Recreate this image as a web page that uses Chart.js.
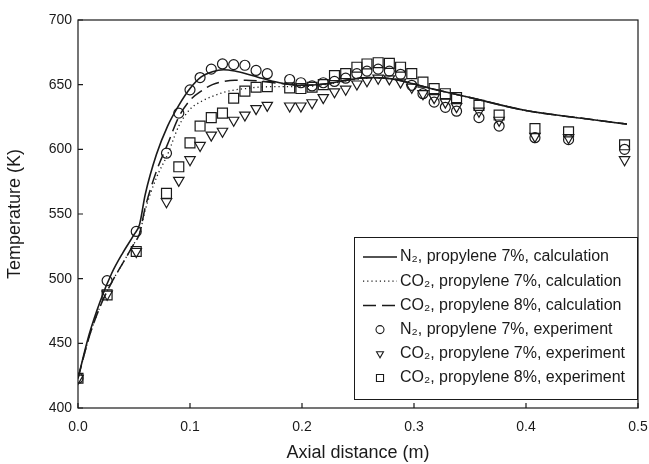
<!DOCTYPE html>
<html>
<head>
<meta charset="utf-8">
<script src="https://cdn.jsdelivr.net/npm/chart.js@4.4.1/dist/chart.umd.min.js"></script>
<style>
html,body{margin:0;padding:0;background:#fff;}
#wrap{width:649px;height:464px;position:relative;}
</style>
</head>
<body>
<div id="wrap"><canvas id="c" width="649" height="464"></canvas></div>
<script>
// ---- data ----
const xTicks = [0.0, 0.1, 0.2, 0.3, 0.4, 0.5];
const yTicks = [400, 450, 500, 550, 600, 650, 700];

const calcX = [0, 0.01, 0.02, 0.03, 0.04, 0.05, 0.055, 0.06, 0.07, 0.08, 0.09, 0.1, 0.11, 0.12, 0.13, 0.14, 0.15, 0.16, 0.18, 0.2, 0.22, 0.24, 0.26, 0.28, 0.3, 0.32, 0.35, 0.4, 0.45, 0.49];
const n2Calc7  = [423, 457, 483, 504, 520, 534, 542, 565, 596, 618, 634, 647, 656, 660, 661.5, 660.5, 658.5, 656, 651.5, 649.5, 650.5, 653.5, 655.5, 654.5, 650.5, 646, 640, 630, 624, 619.5];
const co2Calc7 = [423, 455, 479, 497, 512, 527, 535, 553, 578, 596, 618, 631, 637, 641, 644, 646, 647, 648, 648.5, 648.5, 650, 653, 655, 654.5, 650.5, 646, 640, 630, 624, 619.5];
const co2Calc8 = [423, 455, 479, 497, 512, 527, 535, 555, 583, 604, 625, 638, 645, 650, 652.5, 653.5, 653.5, 653, 651, 649.5, 650.5, 653.5, 655.5, 654.5, 650.5, 646, 640, 630, 624, 619.5];

const expX = [0, 0.026, 0.052, 0.079, 0.09, 0.1, 0.109, 0.119, 0.129, 0.139, 0.149, 0.159, 0.169, 0.189, 0.199, 0.209, 0.219, 0.229, 0.239, 0.249, 0.258, 0.268, 0.278, 0.288, 0.298, 0.308, 0.318, 0.328, 0.338, 0.358, 0.376, 0.408, 0.438, 0.488];
const n2Exp7  = [423, 498.5, 536.5, 597, 628, 646, 655.5, 662, 666, 665.5, 665, 661, 658.5, 654, 651.5, 649, 651.5, 652.5, 655, 658.5, 660.5, 662, 660.5, 658, 649.5, 643, 636.5, 632.5, 629.5, 624.5, 618, 609, 607.5, 600];
const co2Exp7 = [423, 488, 521, 559.5, 576, 592, 603, 611, 614, 622.5, 626.5, 631.5, 634, 633.5, 633.5, 636, 640, 644.5, 646.5, 650.5, 653, 655, 654.5, 652, 648, 643, 640, 636.5, 633, 629.5, 622.5, 610, 609, 592];
const co2Exp8 = [423, 487.5, 521, 566, 586.5, 605, 618, 624.5, 628, 639.5, 645, 648, 648.5, 647.5, 647, 648, 650, 657, 658.5, 663.5, 666, 667, 666.5, 663.5, 658.5, 652, 647, 643, 640, 634, 626.5, 616, 613.5, 603.5];

const labels = [
  'N\u2082, propylene 7%, calculation',
  'CO\u2082, propylene 7%, calculation',
  'CO\u2082, propylene 8%, calculation',
  'N\u2082, propylene 7%, experiment',
  'CO\u2082, propylene 7%, experiment',
  'CO\u2082, propylene 8%, experiment'
];

const pts = (xs, ys) => xs.map((x, i) => ({x: x, y: ys[i]}));
const INK = '#1a1a1a';
const FONT = '"Liberation Sans", Arial, sans-serif';

const lineDs = (label, ys, dash, width) => ({
  type: 'line', label, data: pts(calcX, ys), showLine: true,
  borderColor: INK, borderWidth: width, borderDash: dash,
  pointRadius: 0, cubicInterpolationMode: 'monotone', fill: false,
  legendDash: dash
});
const markDs = (label, ys, style, r, rot) => ({
  type: 'scatter', label, data: pts(expX, ys), showLine: false,
  pointStyle: style, pointRadius: r, pointRotation: rot,
  pointBorderColor: INK, pointBackgroundColor: 'rgba(0,0,0,0)', pointBorderWidth: 1.2,
  borderColor: INK, backgroundColor: 'rgba(0,0,0,0)'
});

const datasets = [
  lineDs(labels[0], n2Calc7, [], 1.6),
  lineDs(labels[1], co2Calc7, [1.2, 3], 1.3),
  lineDs(labels[2], co2Calc8, [13, 6], 1.5),
  markDs(labels[3], n2Exp7, 'circle', 5, 0),
  markDs(labels[4], co2Exp7, 'triangle', 6, 180),
  markDs(labels[5], co2Exp8, 'rect', 7, 0)
];

const frame = {
  id: 'frame',
  afterDraw(chart) {
    const {ctx, chartArea: a, scales} = chart;
    ctx.save();
    ctx.strokeStyle = INK;
    ctx.lineWidth = 1.2;
    ctx.strokeRect(a.left, a.top, a.right - a.left, a.bottom - a.top);
    // inward ticks
    ctx.beginPath();
    xTicks.forEach(v => { const p = scales.x.getPixelForValue(v); ctx.moveTo(p, a.bottom); ctx.lineTo(p, a.bottom - 5); });
    yTicks.forEach(v => { const p = scales.y.getPixelForValue(v); ctx.moveTo(a.left, p); ctx.lineTo(a.left + 5, p); });
    ctx.stroke();
    // legend box
    const L = 354, T = 237, R = a.right - 1, B = 399;
    ctx.fillStyle = '#fff';
    ctx.fillRect(L, T, R - L, B - T);
    ctx.lineWidth = 1;
    ctx.strokeRect(L + 0.5, T + 0.5, R - L, B - T);
    ctx.font = '16px ' + FONT;
    ctx.textBaseline = 'middle';
    ctx.textAlign = 'left';
    chart.data.datasets.forEach((ds, i) => {
      const y = 257 + i * 24.2;
      const x0 = 363, x1 = 397, xc = 380;
      ctx.strokeStyle = INK;
      if (ds.type === 'line') {
        ctx.lineWidth = ds.borderWidth;
        ctx.setLineDash(ds.legendDash);
        ctx.beginPath(); ctx.moveTo(x0, y); ctx.lineTo(x1, y); ctx.stroke();
        ctx.setLineDash([]);
      } else {
        ctx.lineWidth = 1.1;
        ctx.fillStyle = 'rgba(0,0,0,0)';
        Chart.helpers.drawPoint(ctx, {pointStyle: ds.pointStyle, radius: ds.pointStyle === 'rect' ? 5 : 4, rotation: ds.pointRotation, borderWidth: 1.1}, xc, y);
      }
      ctx.fillStyle = INK;
      ctx.fillText(ds.label, 400, y);
    });
    ctx.restore();
  }
};

new Chart(document.getElementById('c'), {
  data: {datasets},
  options: {
    responsive: false,
    animation: false,
    events: [],
    layout: {padding: {top: 20, right: 11, left: 0, bottom: 0}},
    plugins: {legend: {display: false}, tooltip: {enabled: false}},
    scales: {
      x: {
        type: 'linear', min: 0, max: 0.5,
        afterBuildTicks: s => { s.ticks = xTicks.map(v => ({value: v})); },
        afterFit: s => { s.height = 56; s.paddingLeft = 0; s.paddingRight = 0; },
        grid: {display: false, drawTicks: false},
        border: {display: false},
        ticks: {color: INK, padding: 11, font: {size: 14, family: FONT}, callback: v => v.toFixed(1)},
        title: {display: true, text: 'Axial distance (m)', color: INK, padding: {top: 0, bottom: 0}, font: {size: 18, family: FONT}}
      },
      y: {
        type: 'linear', min: 400, max: 700,
        afterBuildTicks: s => { s.ticks = yTicks.map(v => ({value: v})); },
        afterFit: s => { s.width = 78; s.paddingTop = 0; s.paddingBottom = 0; },
        grid: {display: false, drawTicks: false},
        border: {display: false},
        ticks: {color: INK, padding: 6, font: {size: 14, family: FONT}},
        title: {display: true, text: 'Temperature (K)', color: INK, padding: {top: 4, bottom: 0}, font: {size: 18, family: FONT}}
      }
    }
  },
  plugins: [frame]
});
</script>
</body>
</html>
